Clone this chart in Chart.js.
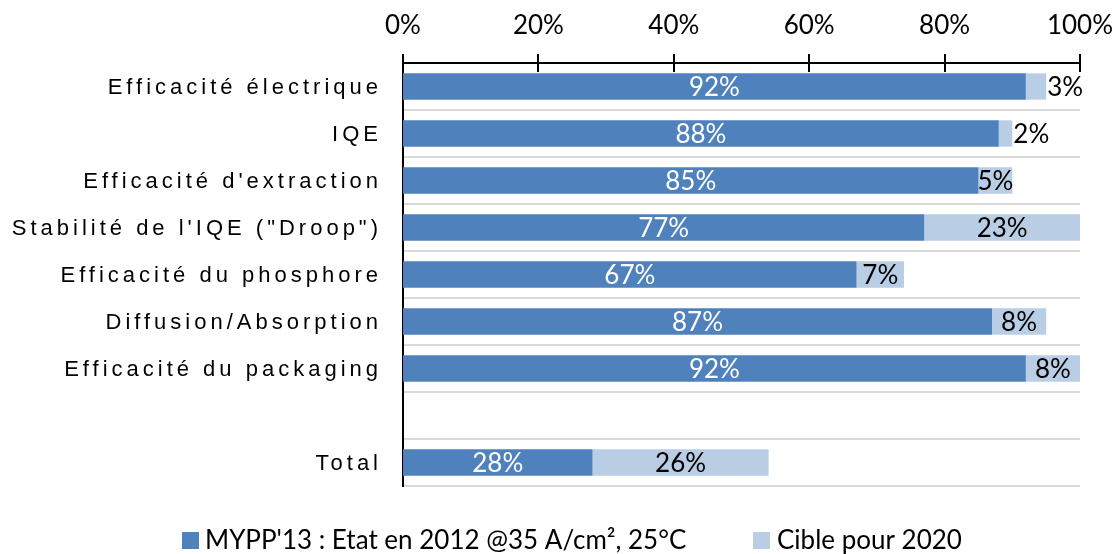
<!DOCTYPE html>
<html>
<head>
<meta charset="utf-8">
<script src="https://cdn.jsdelivr.net/npm/chart.js@4/dist/chart.umd.min.js"></script>
<style>
  html, body { margin: 0; padding: 0; background: #fff; }
</style>
</head>
<body>
<canvas id="chart" width="1118" height="554"></canvas>
<script>
const categories = ['Efficacité électrique', 'IQE', "Efficacité d'extraction", 'Stabilité de l\'IQE ("Droop")',
    'Efficacité du phosphore', 'Diffusion/Absorption', 'Efficacité du packaging', '', 'Total'];
const etat2012 = [92, 88, 85, 77, 67, 87, 92, null, 28];
const cible2020 = [3, 2, 5, 23, 7, 8, 8, null, 26];
const seriesNames = ["MYPP'13 : Etat en 2012 @35 A/cm², 25°C", 'Cible pour 2020'];
const xTicks = [0, 20, 40, 60, 80, 100];

const DARK = '#4f81bd';
const LIGHT = '#b9cde5';
const NUM_FONT = '26px Lato, "Open Sans", sans-serif';
const CAT_FONT = '22px "Liberation Sans", Arial, sans-serif';

// tick marks crossing the top axis line
const tickMarks = {
    id: 'tickMarks',
    afterDraw(chart) {
        const ctx = chart.ctx;
        const x = chart.scales.x;
        const top = chart.chartArea.top;
        ctx.save();
        ctx.strokeStyle = '#000';
        ctx.lineWidth = 2;
        xTicks.forEach(v => {
            const px = Math.round(x.getPixelForValue(v));
            ctx.beginPath();
            ctx.moveTo(px, top - 9);
            ctx.lineTo(px, top + 9);
            ctx.stroke();
        });
        ctx.restore();
    }
};

// category labels (letter-spaced, right aligned)
const categoryLabels = {
    id: 'categoryLabels',
    afterDraw(chart) {
        const ctx = chart.ctx;
        const y = chart.scales.y;
        ctx.save();
        ctx.font = CAT_FONT;
        ctx.fillStyle = '#000';
        ctx.textAlign = 'right';
        ctx.textBaseline = 'middle';
        ctx.letterSpacing = '4px';
        categories.forEach((c, i) => {
            if (!c) return;
            ctx.fillText(c, 382, y.getPixelForValue(i) + 1);
        });
        ctx.restore();
    }
};

// value labels on the bars
const valueLabels = {
    id: 'valueLabels',
    afterDatasetsDraw(chart) {
        const ctx = chart.ctx;
        ctx.save();
        ctx.font = NUM_FONT;
        ctx.textBaseline = 'middle';
        chart.data.datasets.forEach((ds, di) => {
            const meta = chart.getDatasetMeta(di);
            meta.data.forEach((bar, i) => {
                const v = ds.data[i];
                if (v == null) return;
                const txt = v + '%';
                const w = ctx.measureText(txt).width;
                const left = Math.min(bar.x, bar.base);
                const right = Math.max(bar.x, bar.base);
                if (di === 0) {
                    ctx.fillStyle = '#fff';
                    ctx.textAlign = 'center';
                    ctx.fillText(txt, (left + right) / 2, bar.y + 1);
                } else if (w > right - left + 4) {
                    ctx.fillStyle = '#000';
                    ctx.textAlign = 'left';
                    ctx.fillText(txt, right + 1, bar.y + 1);
                } else {
                    ctx.fillStyle = '#000';
                    ctx.textAlign = 'center';
                    ctx.fillText(txt, (left + right) / 2, bar.y + 1);
                }
            });
        });
        ctx.restore();
    }
};

// legend at the bottom
const bottomLegend = {
    id: 'bottomLegend',
    afterDraw(chart) {
        const ctx = chart.ctx;
        const items = [
            { box: 182, text: 205, color: DARK },
            { box: 753, text: 777, color: LIGHT }
        ];
        ctx.save();
        ctx.font = NUM_FONT;
        ctx.textBaseline = 'middle';
        ctx.textAlign = 'left';
        items.forEach((it, i) => {
            ctx.fillStyle = it.color;
            ctx.fillRect(it.box, 532, 17, 17);
            ctx.fillStyle = '#000';
            ctx.fillText(seriesNames[i], it.text, 541);
        });
        ctx.restore();
    }
};

new Chart(document.getElementById('chart'), {
    type: 'bar',
    data: {
        labels: categories,
        datasets: [
            { label: seriesNames[0], data: etat2012, backgroundColor: DARK },
            { label: seriesNames[1], data: cible2020, backgroundColor: LIGHT }
        ]
    },
    options: {
        indexAxis: 'y',
        responsive: false,
        animation: false,
        devicePixelRatio: 1,
        layout: { padding: { left: 0, right: 38, top: 0, bottom: 68 } },
        datasets: {
            bar: { barPercentage: 0.56, categoryPercentage: 1 }
        },
        scales: {
            x: {
                position: 'top',
                stacked: true,
                min: 0,
                max: 100,
                afterFit: s => { s.height = 63; s.paddingLeft = 0; s.paddingRight = 0; },
                afterBuildTicks: s => { s.ticks = xTicks.map(v => ({ value: v })); },
                ticks: {
                    padding: 22,
                    color: '#000',
                    font: { family: 'Lato, "Open Sans", sans-serif', size: 26 },
                    callback: v => v + '%'
                },
                grid: { display: false, drawTicks: false },
                border: { display: true, color: '#000', width: 2 }
            },
            y: {
                stacked: true,
                afterFit: s => { s.width = 403; },
                ticks: { display: false },
                grid: { offset: true, color: '#d9d9d9', lineWidth: 2, drawTicks: false },
                border: { display: true, color: '#000', width: 2 }
            }
        },
        plugins: {
            legend: { display: false },
            tooltip: { enabled: false }
        }
    },
    plugins: [tickMarks, categoryLabels, valueLabels, bottomLegend]
});
</script>
</body>
</html>
